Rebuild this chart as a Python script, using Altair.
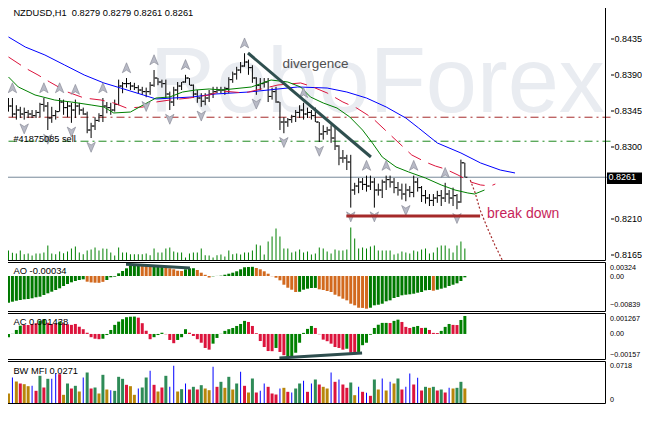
import altair as alt
import pandas as pd

# ---------------- data ----------------
highs = [0.8360,0.8360,0.8351,0.8349,0.8348,0.8345,0.8345,0.8345,0.8354,0.8360,
         0.8355,0.8349,0.8345,0.8360,0.8358,0.8355,0.8354,0.8358,0.8354,0.8348,
         0.8343,0.8329,0.8336,0.8341,0.8360,0.8355,0.8354,0.8358,0.8383,0.8380,
         0.8385,0.8380,0.8379,0.8376,0.8374,0.8373,0.8380,0.8395,0.8385,0.8383,
         0.8383,0.8368,0.8374,0.8380,0.8380,0.8389,0.8385,0.8377,0.8370,0.8366,
         0.8366,0.8370,0.8374,0.8374,0.8374,0.8374,0.8386,0.8393,0.8399,0.8405,
         0.8416,0.8408,0.8401,0.8386,0.8385,0.8385,0.8385,0.8373,0.8374,0.8355,
         0.8336,0.8335,0.8339,0.8345,0.8351,0.8354,0.8348,0.8345,0.8348,0.8330,
         0.8326,0.8324,0.8326,0.8323,0.8301,0.8295,0.8289,0.8289,0.8254,0.8260,
         0.8260,0.8263,0.8263,0.8260,0.8253,0.8258,0.8263,0.8263,0.8260,0.8255,
         0.8253,0.8253,0.8250,0.8263,0.8260,0.8250,0.8245,0.8240,0.8240,0.8244,
         0.8245,0.8254,0.8245,0.8248,0.8240,0.8283,0.8279]
lows = [0.8343,0.8336,0.8333,0.8335,0.8333,0.8335,0.8335,0.8335,0.8336,0.8343,
        0.8320,0.8329,0.8333,0.8343,0.8339,0.8336,0.8329,0.8335,0.8339,0.8339,
        0.8316,0.8310,0.8320,0.8330,0.8330,0.8341,0.8339,0.8343,0.8351,0.8366,
        0.8373,0.8370,0.8370,0.8366,0.8364,0.8361,0.8364,0.8374,0.8376,0.8373,
        0.8360,0.8345,0.8350,0.8358,0.8370,0.8379,0.8376,0.8360,0.8354,0.8349,
        0.8351,0.8355,0.8360,0.8366,0.8366,0.8364,0.8366,0.8379,0.8383,0.8391,
        0.8399,0.8389,0.8379,0.8364,0.8370,0.8373,0.8355,0.8358,0.8354,0.8320,
        0.8316,0.8324,0.8329,0.8330,0.8335,0.8333,0.8335,0.8333,0.8330,0.8305,
        0.8308,0.8314,0.8304,0.8295,0.8276,0.8279,0.8270,0.8223,0.8239,0.8241,
        0.8245,0.8243,0.8245,0.8223,0.8238,0.8235,0.8245,0.8248,0.8241,0.8238,
        0.8233,0.8231,0.8236,0.8236,0.8243,0.8230,0.8228,0.8225,0.8225,0.8229,
        0.8225,0.8230,0.8228,0.8225,0.8221,0.8229,0.8261]
opens = [0.8355,0.8350,0.8340,0.8345,0.8340,0.8342,0.8340,0.8338,0.8342,0.8352,
         0.8350,0.8335,0.8338,0.8343,0.8355,0.8348,0.8350,0.8345,0.8350,0.8345,
         0.8340,0.8320,0.8325,0.8332,0.8338,0.8350,0.8348,0.8345,0.8352,0.8375,
         0.8378,0.8378,0.8375,0.8373,0.8370,0.8368,0.8368,0.8376,0.8385,0.8380,
         0.8378,0.8365,0.8355,0.8370,0.8375,0.8380,0.8385,0.8376,0.8365,0.8360,
         0.8356,0.8360,0.8365,0.8368,0.8370,0.8370,0.8372,0.8383,0.8390,0.8395,
         0.8400,0.8405,0.8398,0.8385,0.8376,0.8378,0.8380,0.8362,0.8368,0.8355,
         0.8330,0.8330,0.8333,0.8337,0.8342,0.8345,0.8340,0.8342,0.8338,0.8330,
         0.8315,0.8318,0.8320,0.8310,0.8300,0.8285,0.8285,0.8280,0.8245,0.8250,
         0.8255,0.8252,0.8250,0.8255,0.8245,0.8245,0.8255,0.8258,0.8255,0.8248,
         0.8245,0.8240,0.8245,0.8242,0.8255,0.8248,0.8238,0.8235,0.8232,0.8235,
         0.8238,0.8235,0.8240,0.8235,0.8238,0.8230,0.8279]
closes = [0.8350,0.8340,0.8345,0.8340,0.8342,0.8340,0.8338,0.8342,0.8352,0.8350,
          0.8335,0.8338,0.8343,0.8355,0.8348,0.8350,0.8345,0.8350,0.8345,0.8340,
          0.8320,0.8325,0.8332,0.8338,0.8350,0.8348,0.8345,0.8352,0.8375,0.8378,
          0.8378,0.8375,0.8373,0.8370,0.8368,0.8368,0.8376,0.8385,0.8380,0.8378,
          0.8365,0.8355,0.8370,0.8375,0.8380,0.8385,0.8376,0.8365,0.8360,0.8356,
          0.8360,0.8365,0.8368,0.8370,0.8370,0.8372,0.8383,0.8390,0.8395,0.8400,
          0.8405,0.8398,0.8385,0.8376,0.8378,0.8380,0.8362,0.8368,0.8355,0.8330,
          0.8330,0.8333,0.8337,0.8342,0.8345,0.8340,0.8342,0.8338,0.8330,0.8315,
          0.8318,0.8320,0.8310,0.8300,0.8285,0.8285,0.8280,0.8245,0.8250,0.8255,
          0.8252,0.8250,0.8255,0.8245,0.8245,0.8255,0.8258,0.8255,0.8248,0.8245,
          0.8240,0.8245,0.8242,0.8255,0.8248,0.8238,0.8235,0.8232,0.8235,0.8238,
          0.8235,0.8240,0.8235,0.8238,0.8230,0.8279,0.8261]
volumes = [1000,770,700,1000,630,700,500,700,700,800,
           1500,700,630,900,730,900,1200,1400,800,630,
           1000,1100,1300,1000,1200,1170,800,500,1300,800,
           800,630,630,630,630,700,530,1200,800,800,
           1200,1300,900,800,800,300,700,800,800,1200,
           530,500,300,530,600,400,1000,630,700,600,
           800,800,1000,1600,1500,600,1900,2400,3200,2400,
           1200,1200,800,900,1100,800,900,600,700,1300,
           1200,900,700,1100,1000,1000,1100,3300,2200,1200,
           1300,1200,1400,1500,1000,1000,1000,1000,600,700,
           900,800,700,1000,900,1100,1200,700,800,1300,
           1500,1500,1200,800,1500,1900,1200]
ao = [-0.00686,-0.00660,-0.00635,-0.00617,-0.00599,-0.00591,-0.00573,-0.00547,-0.00532,-0.00488,
      -0.00445,-0.00403,-0.00360,-0.00316,-0.00257,-0.00206,-0.00162,-0.00129,-0.00103,-0.00085,
      -0.00146,-0.00165,-0.00172,-0.00175,-0.00150,-0.00103,-0.00033,-0.00018,0.00069,0.00129,
      0.00198,0.00257,0.00283,0.00290,0.00257,0.00257,0.00240,0.00257,0.00240,0.00240,
      0.00224,0.00198,0.00172,0.00136,0.00129,0.00172,0.00198,0.00200,0.00154,0.00085,
      0.00031,-0.00039,-0.00008,0.00002,0.00008,0.00033,0.00059,0.00085,0.00121,0.00172,
      0.00224,0.00231,0.00236,0.00206,0.00172,0.00121,0.00059,-0.00005,-0.00044,-0.00111,
      -0.00224,-0.00301,-0.00352,-0.00411,-0.00405,-0.00352,-0.00326,-0.00308,-0.00306,-0.00342,
      -0.00360,-0.00386,-0.00411,-0.00481,-0.00522,-0.00583,-0.00625,-0.00712,-0.00753,-0.00815,
      -0.00820,-0.00839,-0.00815,-0.00753,-0.00738,-0.00712,-0.00650,-0.00625,-0.00565,-0.00540,
      -0.00496,-0.00481,-0.00470,-0.00455,-0.00429,-0.00411,-0.00368,-0.00360,-0.00378,-0.00352,
      -0.00326,-0.00301,-0.00257,-0.00224,-0.00188,-0.00129,-0.00034]
ao_dir = ("GGGGGGGGGG GGGGGGGGGG OOOOOGGGGG GGGGOOOGGG OOOOOGGGOO OOGGGGGGGG "
          "GGGOOOOOOO OOOOGGGGGO OOOOOOOOOO OOGGGGGGGG GGGGGGGGOG GGGGGGG").replace(" ", "")
ac = [-0.00021,0.00001,0.00026,0.00054,0.00059,0.00058,0.00065,0.00070,0.00086,0.00096,
      0.00073,0.00065,0.00069,0.00080,0.00069,0.00063,0.00059,0.00065,0.00047,0.00031,
      0.00008,-0.00021,-0.00031,-0.00034,-0.00031,-0.00007,0.00026,0.00059,0.00080,0.00096,
      0.00109,0.00112,0.00113,0.00106,0.00070,0.00021,-0.00034,-0.00021,-0.00007,0.00008,
      -0.00002,-0.00039,-0.00060,-0.00039,-0.00021,0.00031,0.00008,-0.00013,-0.00034,-0.00057,
      -0.00091,-0.00102,-0.00063,-0.00026,0.00001,0.00020,0.00031,0.00039,0.00052,0.00065,
      0.00085,0.00078,0.00052,0.00005,-0.00046,-0.00085,-0.00111,-0.00112,-0.00091,-0.00117,
      -0.00138,-0.00157,-0.00156,-0.00122,-0.00057,0.00007,0.00033,0.00052,0.00039,-0.00002,
      -0.00037,-0.00047,-0.00063,-0.00085,-0.00091,-0.00102,-0.00096,-0.00122,-0.00128,-0.00117,
      -0.00073,-0.00057,-0.00005,0.00039,0.00060,0.00072,0.00072,0.00071,0.00085,0.00093,
      0.00078,0.00046,0.00039,0.00046,0.00052,0.00039,0.00040,0.00026,0.00007,0.00006,
      0.00020,0.00046,0.00065,0.00059,0.00058,0.00091,0.00117]
ac_dir = ("GGGGRRRRGG RRRGRRRRRR RRRRGGGGGG GGGRRRRGGG RRRGGGRRRR RRGGGGGGGG "
          "GRRRRRRRGR RGGGGGGGRR RRRRRRGRRG GGGGGGGRGG RRRGGRGRRR GGGRRGG").replace(" ", "")
mfi = [0.0190,0.0494,0.0418,0.0380,0.0367,0.0329,0.0336,0.0241,0.0526,0.0304,
       0.0469,0.0469,0.0576,0.0557,0.0165,0.0380,0.0285,0.0336,0.0228,0.0494,
       0.0589,0.0285,0.0304,0.0190,0.0545,0.0266,0.0253,0.0241,0.0507,0.0469,
       0.0355,0.0329,0.0165,0.0285,0.0304,0.0494,0.0621,0.0355,0.0228,0.0304,
       0.0526,0.0317,0.0718,0.0228,0.0272,0.0380,0.0266,0.0317,0.0266,0.0348,
       0.0285,0.0253,0.0697,0.0317,0.0412,0.0298,0.0507,0.0266,0.0380,0.0602,
       0.0336,0.0209,0.0475,0.0209,0.0241,0.0380,0.0317,0.0190,0.0171,0.0285,
       0.0298,0.0222,0.0209,0.0285,0.0380,0.0431,0.0222,0.0380,0.0456,0.0361,
       0.0317,0.0285,0.0589,0.0412,0.0456,0.0361,0.0298,0.0399,0.0158,0.0317,
       0.0222,0.0203,0.0146,0.0456,0.0266,0.0475,0.0247,0.0412,0.0380,0.0475,
       0.0266,0.0317,0.0570,0.0361,0.0488,0.0247,0.0317,0.0298,0.0317,0.0247,
       0.0266,0.0209,0.0298,0.0285,0.0298,0.0412,0.0285]
mfi_col = ("YBYRYYBRGR GBBRYGRGYB GRGYGYBGGG RYYBGGBRYR GBBYGBRGRG YYBRGYGYGB "
           "RYGRBBRRRB YRBGGBRBGR YYBRBRRGYB RBRGYBYBYG RBBRBRGYGR GRBYGGY").replace(" ", "")

frac_up = [1, 9, 13, 17, 24, 30, 37, 45, 60, 75, 91, 96, 103, 111]
frac_dn = [4, 10, 16, 21, 35, 41, 49, 63, 70, 79, 87, 93, 101, 114]

blue_i = [0, 4.25, 9.25, 14.25, 19.25, 24.25, 28.5, 34.25, 37.5, 41.75, 46.75, 52.5, 61, 66,
          73.5, 81, 86, 91, 96, 101, 104.25, 109, 115, 120, 125, 128.75]
blue_p = [0.84363, 0.84238, 0.84138, 0.84013, 0.83888, 0.83788, 0.83725, 0.83638, 0.83588, 0.83600,
          0.83613, 0.83650, 0.83675, 0.83700, 0.83738, 0.83725, 0.83675, 0.83600, 0.83488, 0.83350,
          0.83225, 0.83038, 0.82913, 0.82788, 0.82700, 0.82663]
red_i = [0, 4.25, 7.5, 10.5, 15, 19.25, 23.5, 26.75, 30, 34.25, 37.5, 41, 46, 51, 54.25, 60,
         68.5, 74.25, 76.75, 81, 85, 88.5, 92.5, 96, 99.25, 102.5, 106, 108.5, 111, 114.25,
         117.5, 120, 122.5, 123.75]
red_p = [0.84113, 0.83975, 0.83888, 0.83800, 0.83675, 0.83600, 0.83575, 0.83538, 0.83475, 0.83488,
         0.83550, 0.83575, 0.83600, 0.83638, 0.83688, 0.83663, 0.83763, 0.83788, 0.83750, 0.83663,
         0.83550, 0.83475, 0.83350, 0.83188, 0.83038, 0.82888, 0.82800, 0.82750, 0.82713, 0.82638,
         0.82550, 0.82513, 0.82500, 0.82525]
green_i = [0, 2.5, 6.75, 11.75, 16, 21, 24.25, 26.75, 31, 34.25, 37.5, 41, 44.25, 47.5, 51, 54.25,
           61.75, 66.75, 71, 74.25, 76.75, 80, 83.5, 86.75, 90, 92.5, 95, 98.5, 101.75, 106, 110,
           113.5, 116.75, 118.5, 121]
green_p = [0.83863, 0.83738, 0.83638, 0.83575, 0.83550, 0.83513, 0.83488, 0.83413, 0.83425, 0.83513,
           0.83600, 0.83613, 0.83675, 0.83700, 0.83713, 0.83700, 0.83738, 0.83825, 0.83800, 0.83738,
           0.83613, 0.83538, 0.83475, 0.83363, 0.83200, 0.83038, 0.82863, 0.82738, 0.82675, 0.82600,
           0.82513, 0.82450, 0.82413, 0.82400, 0.82450]

level_tp = 0.8336
level_sl = 0.8306
bid = 0.8261
support = 0.82125

price_ticks = [0.8480, 0.8435, 0.8390, 0.8345, 0.8300, 0.8210, 0.8165]
tick_idx = [0, 16, 32, 48, 64, 80, 96, 112]
tick_lbl = ["20 Feb 2013", "21 Feb 15:00", "22 Feb 07:00", "25 Feb 01:00",
            "25 Feb 17:00", "26 Feb 09:00", "27 Feb 01:00", "27 Feb 17:00"]
ao_ticks = [0.00324, 0.0, -0.00839]
ac_ticks = [0.001267, 0.0, -0.00157]
mfi_ticks = [0.0718, 0.0]

# ---------------- tables ----------------
bars = pd.DataFrame({
    "i": list(range(len(highs))), "o": opens, "h": highs, "l": lows, "c": closes,
    "v": volumes, "ao": ao, "aod": list(ao_dir), "ac": ac, "acd": list(ac_dir),
    "mfi": mfi, "mc": list(mfi_col),
})
up_df = pd.DataFrame({"i": frac_up, "p": [highs[k] for k in frac_up]})
dn_df = pd.DataFrame({"i": frac_dn, "p": [lows[k] for k in frac_dn]})
blue_df = pd.DataFrame({"i": blue_i, "p": blue_p})
red_df = pd.DataFrame({"i": red_i, "p": red_p})
green_df = pd.DataFrame({"i": green_i, "p": green_p})

div_df = pd.DataFrame({"i": [60.875, 92.125], "p": [0.841625, 0.828625]})
brk_df = pd.DataFrame({"i": [85.875, 119.875], "p": [support, support]})
proj_df = pd.DataFrame({"i": [117.375, 118.625, 119.875, 121.625, 123.625, 125.5],
                        "p": [0.82575, 0.82413, 0.82200, 0.81988, 0.81763, 0.81575]})
ao_line = pd.DataFrame({"i": [29.875, 46.125], "v": [0.00300, 0.00205]})
ac_line = pd.DataFrame({"i": [68.875, 89.875], "v": [-0.00156, -0.00124]})

# ---------------- scales: one view, four stacked panels ----------------
W, H = 608, 401
X_DOM = [-0.25, 151.75]
XS = alt.Scale(domain=X_DOM, nice=False, zero=False)
P_DOM = [0.81569, 0.84794]
AO_DOM = [-0.00912, 0.00347]
AC_DOM = [-0.00166, 0.00133]
M_DOM = [0, 0.0798]
PS = alt.Scale(domain=P_DOM, range=[258, 0], nice=False, zero=False)
VS = alt.Scale(domain=[0, 25800], range=[258, 0], nice=False, zero=False)
AOS = alt.Scale(domain=AO_DOM, range=[309, 260], nice=False, zero=False)
ACS = alt.Scale(domain=AC_DOM, range=[357, 311], nice=False, zero=False)
MS = alt.Scale(domain=M_DOM, range=[401, 359], nice=False, zero=False)

FONT = "Liberation Sans"
SUB_FS = 7.2
BASE_COND = {"condition": [{"test": "datum.value > 0", "value": "top"},
                           {"test": "datum.value < 0", "value": "bottom"}],
             "value": "middle"}

PAXIS = alt.Axis(orient="right", values=price_ticks, format=".4f", tickSize=3,
                 labelPadding=0.5, title=None, labelOverlap=False, labelFontSize=9.0)
ao_axis = alt.Axis(orient="right", values=ao_ticks, tickSize=0, labelPadding=-1, title=None,
                   labelOverlap=False, labelBaseline=BASE_COND, labelFontSize=SUB_FS,
                   labelExpr="datum.value == 0 ? '0.00' : format(datum.value, '.5f')")
ac_axis = alt.Axis(orient="right", values=ac_ticks, tickSize=0, labelPadding=-1, title=None,
                   labelOverlap=False, labelBaseline=BASE_COND, labelFontSize=SUB_FS,
                   labelExpr="datum.value == 0 ? '0.00' : (datum.value > 0 ? format(datum.value, '.6f') : format(datum.value, '.5f'))")
m_axis = alt.Axis(orient="right", values=mfi_ticks, tickSize=0, labelPadding=-1, title=None,
                  labelOverlap=False, labelFontSize=SUB_FS,
                  labelBaseline={"condition": {"test": "datum.value == 0", "value": "bottom"},
                                 "value": "middle"},
                  labelExpr="datum.value == 0 ? '0' : format(datum.value, '.4f')")
lbl_js = "[" + ",".join("'" + s + "'" for s in tick_lbl) + "]"
t_axis = alt.Axis(orient="bottom", values=tick_idx, tickSize=3, labelAlign="left",
                  labelBaseline="top", labelPadding=0, labelOverlap=False, labelFlush=False,
                  labelOffset={"condition": {"test": "datum.value == 0", "value": 5}, "value": 0},
                  title=None, labelExpr=lbl_js + "[round(datum.value / 16)]")


def xq():
    return alt.X("i:Q", scale=XS, axis=None)


def yp(field):
    return alt.Y(f"{field}:Q", scale=PS, axis=PAXIS)


def pt(i, p, t):
    return pd.DataFrame({"i": [i], "p": [p], "t": [t]})


def frame(dom, scale, axis):
    df = pd.DataFrame({"i": [X_DOM[0]], "i2": [X_DOM[1]], "lo": [dom[0]], "hi": [dom[1]]})
    return alt.Chart(df).mark_rect(fillOpacity=0, stroke="black", strokeWidth=1).encode(
        x=xq(), x2="i2:Q", y=alt.Y("lo:Q", scale=scale, axis=axis), y2="hi:Q")


def label(i, v, t, scale, axis, size=9.3, color="black", x=None):
    return alt.Chart(pd.DataFrame({"i": [i], "v": [v], "t": [t]})).mark_text(
        font=FONT, fontSize=size, color=color, align="left", baseline="middle").encode(
        x=x if x is not None else xq(), y=alt.Y("v:Q", scale=scale, axis=axis), text="t:N")


# ---------------- main panel ----------------
watermark = alt.Chart(pt(35.9, 0.83425, "RoboForex")).mark_text(
    font="Liberation Sans, Arial, sans-serif", fontSize=92, color="#e9ecf1", align="left",
    baseline="alphabetic").encode(x=xq(), y=yp("p"), text="t:N")

tp_rule = alt.Chart(pd.DataFrame({"p": [level_tp]})).mark_rule(
    color="#a52a2a", strokeWidth=1, strokeDash=[8, 4, 2, 4]).encode(y=yp("p"))
sl_rule = alt.Chart(pd.DataFrame({"p": [level_sl]})).mark_rule(
    color="#1f8a1f", strokeWidth=1, strokeDash=[8, 4, 2, 4]).encode(y=yp("p"))
bid_rule = alt.Chart(pd.DataFrame({"p": [bid]})).mark_rule(
    color="#778899", strokeWidth=1).encode(y=yp("p"))

hl = alt.Chart(bars).mark_rule(color="black", strokeWidth=1).encode(
    x=xq(), y=yp("h"), y2="l:Q")
op = alt.Chart(bars).mark_tick(orient="horizontal", size=2, thickness=1, color="black",
                               xOffset=-1.5, opacity=1).encode(x=xq(), y=yp("o"))
cl = alt.Chart(bars).mark_tick(orient="horizontal", size=2, thickness=1, color="black",
                               xOffset=1.5, opacity=1).encode(x=xq(), y=yp("c"))

blue_ln = alt.Chart(blue_df).mark_line(color="#0000ff", strokeWidth=1).encode(x=xq(), y=yp("p"))
red_ln = alt.Chart(red_df).mark_line(color="#dc143c", strokeWidth=1,
                                     strokeDash=[15, 8]).encode(x=xq(), y=yp("p"))
green_ln = alt.Chart(green_df).mark_line(color="#008000", strokeWidth=1).encode(x=xq(), y=yp("p"))

UP = "M0,-1L0.8,0.9L0,0.4L-0.8,0.9Z"
DN = "M0,1L0.8,-0.9L0,-0.4L-0.8,-0.9Z"
up_pts = alt.Chart(up_df).mark_point(shape=UP, filled=True, size=110, fill="#b8bac6",
                                     stroke="#80828f", strokeWidth=0.6, opacity=1,
                                     yOffset=-10).encode(x=xq(), y=yp("p"))
dn_pts = alt.Chart(dn_df).mark_point(shape=DN, filled=True, size=110, fill="#b8bac6",
                                     stroke="#80828f", strokeWidth=0.6, opacity=1,
                                     yOffset=9).encode(x=xq(), y=yp("p"))

div_ln = alt.Chart(div_df).mark_line(color="#2f4f4f", strokeWidth=3).encode(x=xq(), y=yp("p"))
brk_ln = alt.Chart(brk_df).mark_line(color="#a52a2a", strokeWidth=3).encode(x=xq(), y=yp("p"))
proj_ln = alt.Chart(proj_df).mark_line(color="#a52a2a", strokeWidth=1.2,
                                       strokeDash=[2, 2]).encode(x=xq(), y=yp("p"))

title_t = label(1.25, 0.84669, "NZDUSD,H1\u00a0 0.8279 0.8279 0.8261 0.8261", PS, PAXIS, 9.3)
sell_t = label(1.25, 0.83094, "#41875085 sell", PS, PAXIS, 9.2)
div_t = label(69.625, 0.84025, "divergence", PS, PAXIS, 13.5, "#505050")
brk_t = label(121.625, 0.82150, "break down", PS, PAXIS, 14, "#c71f5a")

tag_box = alt.Chart(pd.DataFrame({"i": [152.125], "i2": [161.375], "p": [0.826688],
                                  "p2": [0.82525]})).mark_rect(color="black").encode(
    x=xq(), x2="i2:Q", y=yp("p"), y2="p2:Q")
tag_txt = label(152.5, bid, "0.8261", PS, PAXIS, 9.0, "white")

main_group = alt.layer(
    watermark, tp_rule, sl_rule, bid_rule, hl, op, cl,
    blue_ln, red_ln, green_ln, up_pts, dn_pts, div_ln, brk_ln, proj_ln,
    title_t, sell_t, div_t, brk_t, tag_box, tag_txt, frame(P_DOM, PS, PAXIS))

vol = alt.Chart(bars).mark_bar(size=1, color="#008000").encode(
    x=xq(), y=alt.Y("v:Q", scale=VS, axis=None))

# ---------------- AO ----------------
ao_bars = alt.Chart(bars).mark_bar(size=3).encode(
    x=xq(), y=alt.Y("ao:Q", scale=AOS, axis=ao_axis),
    color=alt.Color("aod:N", scale=alt.Scale(domain=["G", "O"], range=["#007800", "#d2691e"]),
                    legend=None))
ao_div = alt.Chart(ao_line).mark_line(color="#2f4f4f", strokeWidth=3).encode(
    x=xq(), y=alt.Y("v:Q", scale=AOS, axis=ao_axis))
ao_group = alt.layer(ao_bars, ao_div, label(1.25, 0.00116, "AO -0.00034", AOS, ao_axis, 9.4),
                     frame(AO_DOM, AOS, ao_axis))

# ---------------- AC ----------------
ac_bars = alt.Chart(bars).mark_bar(size=3).encode(
    x=xq(), y=alt.Y("ac:Q", scale=ACS, axis=ac_axis),
    color=alt.Color("acd:N", scale=alt.Scale(domain=["G", "R"], range=["#008000", "#dc143c"]),
                    legend=None))
ac_div = alt.Chart(ac_line).mark_line(color="#2f4f4f", strokeWidth=3).encode(
    x=xq(), y=alt.Y("v:Q", scale=ACS, axis=ac_axis))
ac_group = alt.layer(ac_bars, ac_div, label(1.25, 0.00075, "AC 0.001438", ACS, ac_axis, 9.4),
                     frame(AC_DOM, ACS, ac_axis))

# ---------------- BW MFI ----------------
MX = alt.X("i:Q", scale=XS, axis=t_axis)
mcol = alt.Color("mc:N", scale=alt.Scale(domain=["G", "R", "Y", "B"],
                                          range=["#2e8b57", "#dc143c", "#b8860b", "#0000ff"]),
                 legend=None)
m_bars = alt.Chart(bars).transform_filter("datum.mc != 'B'").mark_bar(size=3).encode(
    x=MX, y=alt.Y("mfi:Q", scale=MS, axis=m_axis), color=mcol)
m_blue = alt.Chart(bars).transform_filter("datum.mc == 'B'").mark_bar(size=1).encode(
    x=MX, y=alt.Y("mfi:Q", scale=MS, axis=m_axis), color=mcol)
m_group = alt.layer(m_bars, m_blue, label(1.25, 0.0627, "BW MFI 0.0271", MS, m_axis, 9.3, x=MX),
                    frame(M_DOM, MS, m_axis))

chart = alt.layer(vol, main_group, ao_group, ac_group, m_group).resolve_scale(
    y="independent", color="independent"
).properties(
    width=W, height=H, autosize=alt.AutoSizeParams(type="none"),
    padding={"left": -5.5, "top": -5.5, "right": 31.5, "bottom": 10}, background="white"
).configure_view(strokeWidth=0).configure_axis(
    labelFont=FONT, labelFontSize=9.2, labelColor="black", tickColor="black", tickWidth=1,
    domain=False, grid=False)

chart.save("out.html", embed_options={"renderer": "svg", "actions": False})
